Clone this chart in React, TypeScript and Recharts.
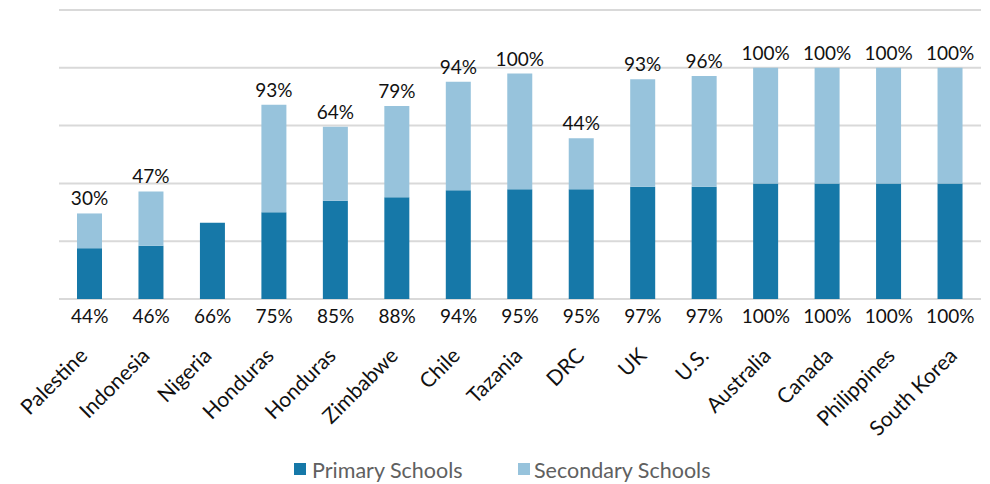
import React from 'react';
import { BarChart, Bar, XAxis, YAxis, CartesianGrid, Legend, LabelList } from 'recharts';

const CATEGORIES = ['Palestine', 'Indonesia', 'Nigeria', 'Honduras', 'Honduras', 'Zimbabwe', 'Chile', 'Tazania', 'DRC', 'UK', 'U.S.', 'Australia', 'Canada', 'Philippines', 'South Korea'];
const PRIMARY = [44, 46, 66, 75, 85, 88, 94, 95, 95, 97, 97, 100, 100, 100, 100];
const SECONDARY = [30, 47, 0, 93, 64, 79, 94, 100, 44, 93, 96, 100, 100, 100, 100];
const Y_TICKS = [0, 50, 100, 150, 200, 250];

const PRIMARY_COLOR = '#1678A8';
const SECONDARY_COLOR = '#97C3DC';
const FONT = 'Lato, "DejaVu Sans", sans-serif';

const data = CATEGORIES.map((name, i) => ({ name, primary: PRIMARY[i], secondary: SECONDARY[i] }));

const Tick = (props: any) => {
  const { x, y, payload, index } = props;
  const i = payload && payload.index != null ? payload.index : index;
  const dx = -1 + 0.65 * i;
  return (
    <g>
      <text x={x} y={y + 16} textAnchor="middle" fontSize={19} fill="#111" fontFamily={FONT}>
        {PRIMARY[i]}%
      </text>
      <text
        transform={`translate(${x + dx},${y + 50}) rotate(-45)`}
        textAnchor="end"
        fontSize={21}
        fill="#111"
        fontFamily={FONT}
      >
        {CATEGORIES[i]}
      </text>
    </g>
  );
};

const SecondaryLabel = (props: any) => {
  const { x, y, width, value } = props;
  if (!value) return null;
  return (
    <text x={x + width / 2} y={y - 8} textAnchor="middle" fontSize={19} fill="#111" fontFamily={FONT}>
      {value}%
    </text>
  );
};

const LegendContent = () => (
  <div style={{ height: 40, width: 990, position: 'relative', fontFamily: FONT, fontSize: 21.5, color: '#606060' }}>
    <div style={{ position: 'absolute', left: 294, top: 19, width: 12, height: 12, background: PRIMARY_COLOR }} />
    <div style={{ position: 'absolute', left: 312, top: 13, lineHeight: '26px', whiteSpace: 'nowrap' }}>Primary Schools</div>
    <div style={{ position: 'absolute', left: 518, top: 19, width: 12, height: 12, background: SECONDARY_COLOR }} />
    <div style={{ position: 'absolute', left: 534, top: 13, lineHeight: '26px', whiteSpace: 'nowrap' }}>Secondary Schools</div>
  </div>
);

export default function App() {
  return (
    <div style={{ position: 'absolute', left: 0, top: 0, width: 990, height: 484, background: '#fff' }}>
      <BarChart width={990} height={484} data={data} margin={{ top: 10, right: 9, left: 59, bottom: 0 }}>
        <CartesianGrid vertical={false} stroke="#d9d9d9" strokeWidth={2} />
        <XAxis dataKey="name" axisLine={false} tickLine={false} interval={0} height={145} tick={<Tick />} />
        <YAxis hide type="number" domain={[0, 250]} ticks={Y_TICKS} />
        <Bar dataKey="primary" name="Primary Schools" stackId="a" fill={PRIMARY_COLOR} barSize={25} isAnimationActive={false} />
        <Bar dataKey="secondary" name="Secondary Schools" stackId="a" fill={SECONDARY_COLOR} barSize={25} isAnimationActive={false}>
          <LabelList dataKey="secondary" content={<SecondaryLabel />} />
        </Bar>
        <Legend verticalAlign="bottom" height={40} content={<LegendContent />} wrapperStyle={{ left: 0, width: 990, height: 40 }} />
      </BarChart>
    </div>
  );
}
